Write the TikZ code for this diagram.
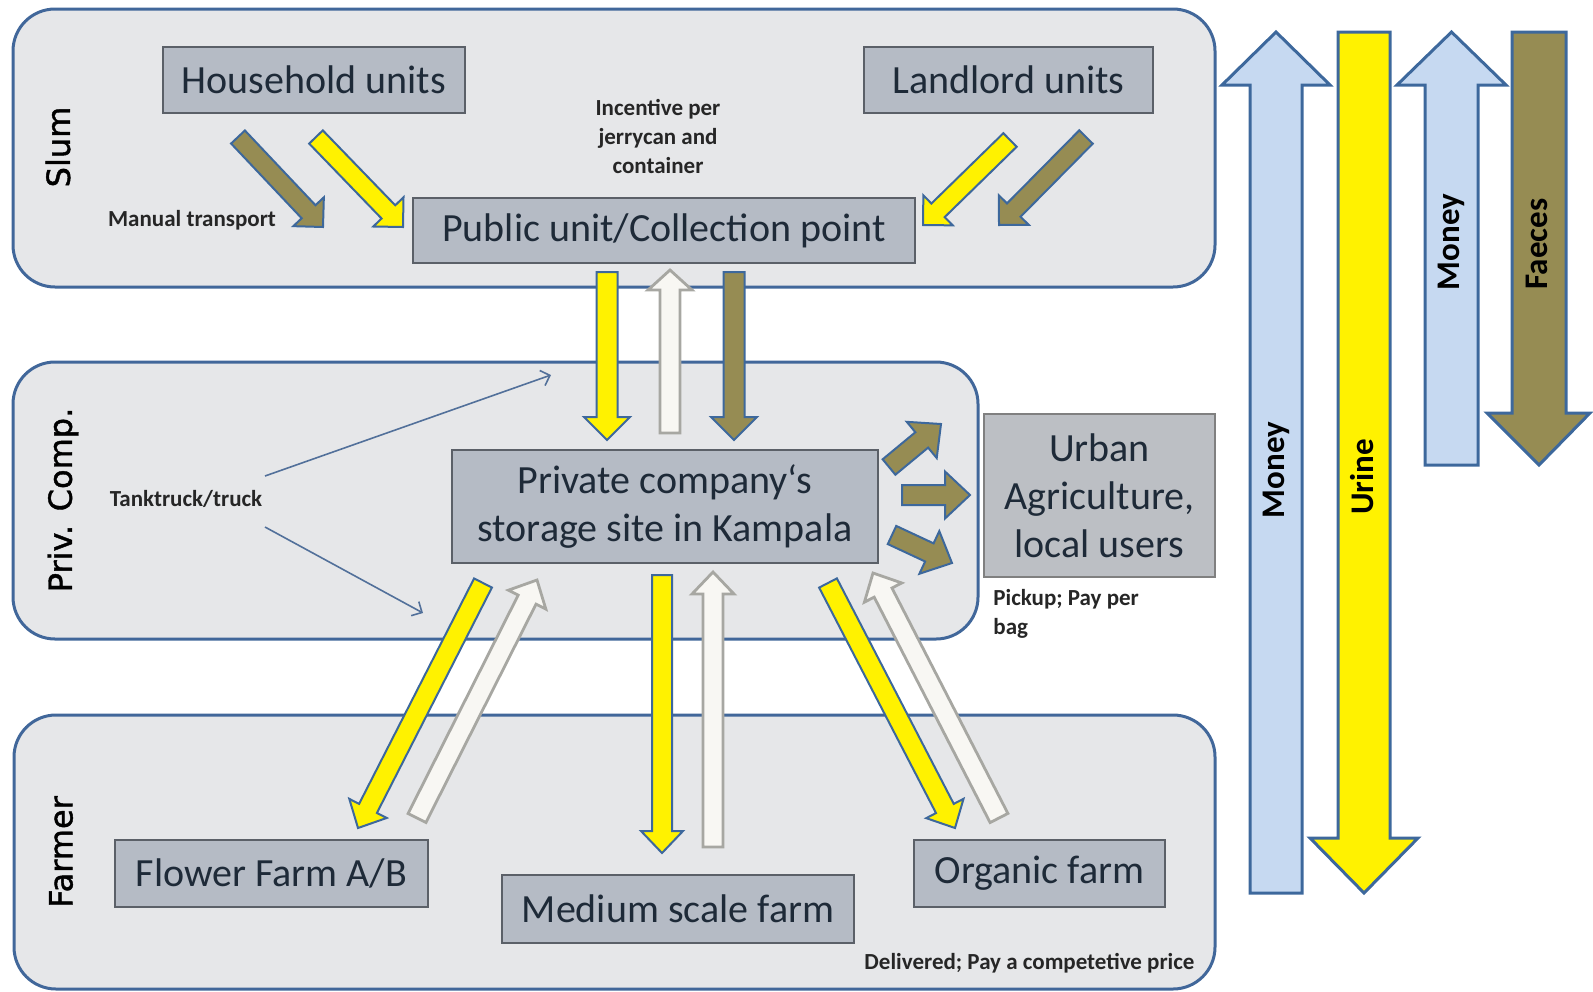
\documentclass[tikz,border=0pt]{standalone}
\usepackage{fontspec}
\setmainfont{Carlito}
\newfontfamily\dejavu[BoldFont={DejaVu Sans},BoldFeatures={FakeBold=1.3}]{DejaVu Sans}
\usetikzlibrary{calc,arrows.meta}

\definecolor{panelfill}{HTML}{E6E7E9}
\definecolor{panelline}{HTML}{41679A}
\definecolor{boxfill}{HTML}{B5BBC5}
\definecolor{boxline}{HTML}{5B6068}
\definecolor{boxtext}{HTML}{1E2A38}
\definecolor{olivec}{HTML}{968C53}
\definecolor{arrline}{HTML}{3D689C}
\definecolor{whitefill}{HTML}{F8F7F3}
\definecolor{whiteline}{HTML}{A7A7A2}
\definecolor{moneyfill}{HTML}{C6D9F1}
\definecolor{urbfill}{HTML}{BCBFC4}
\definecolor{thinline}{HTML}{52709A}
\definecolor{smalltext}{HTML}{262626}

\newcommand\blockarrow[6]{%
  \coordinate (ba-base) at ($(#3)!#6!(#2)$);
  \draw[#1] ($(#2)!#4!90:(#3)$) -- ($(ba-base)!#4!90:(#3)$) -- ($(ba-base)!#5!90:(#3)$)
    -- (#3) -- ($(ba-base)!#5!-90:(#3)$) -- ($(ba-base)!#4!-90:(#3)$) -- ($(#2)!#4!-90:(#3)$) -- cycle;
}

\begin{document}
\begin{tikzpicture}[x=0.5pt,y=-0.5pt,
  panel/.style={draw=panelline, line width=1.5pt, fill=panelfill, rounded corners=21pt, inner sep=0pt},
  box/.style={draw=boxline, line width=0.8pt, fill=boxfill, text=boxtext, font=\fontsize{20pt}{24pt}\selectfont, align=center, inner sep=0pt},
  sidelabel/.style={rotate=90, font=\dejavu\bfseries\fontsize{16pt}{19pt}\selectfont, text=black, inner sep=0pt},
  note/.style={font=\bfseries\fontsize{11.5pt}{14.5pt}\selectfont, text=smalltext, inner sep=0pt, align=center},
  yarrow/.style={fill=yellow, draw=arrline, line width=1pt, line join=miter},
  oarrow/.style={fill=olivec, draw=arrline, line width=1pt, line join=miter},
  warrow/.style={fill=whitefill, draw=whiteline, line width=1.4pt, line join=miter},
  legend/.style={draw=arrline, line width=1.5pt, line join=miter},
  legendtext/.style={rotate=90, font=\bfseries\fontsize{16.5pt}{19pt}\selectfont, text=black, inner sep=0pt},
  thinarrow/.style={draw=thinline, line width=0.8pt, -{Straight Barb[length=4pt,width=8pt]}}
]
\useasboundingbox (0,0) rectangle (1593,991);

% panels
\node[panel, minimum width=601pt, minimum height=139pt] (slum) at (614,148) {};
\node[panel, minimum width=482.5pt, minimum height=138.5pt] (priv) at (495.5,500.5) {};
\node[panel, minimum width=600.5pt, minimum height=137pt] (farmer) at (614.5,852) {};

% side labels
\node[sidelabel] (lslum) at (58,147) {Slum};
\node[sidelabel] (lpriv) at (63,500) {Priv. Comp.};
\node[sidelabel] (lfarm) at (61,852) {Farmer};

% boxes
\node[box, minimum width=151pt, minimum height=33pt] (house) at (314,80) {Household units};
\node[box, minimum width=144.5pt, minimum height=33pt] (land) at (1008.5,80) {Landlord units};
\node[box, minimum width=251pt, minimum height=32.5pt] (public) at (664,230.5) {Public unit/Collection point};
\node[box, minimum width=213pt, minimum height=56.5pt] (store) at (665,506.5) {Private company‘s\\storage site in Kampala};
\node[box, fill=urbfill, draw=gray, minimum width=115.5pt, minimum height=81.5pt] (urban) at (1099.5,495.5) {Urban\\Agriculture,\\local users};
\node[box, minimum width=156.5pt, minimum height=33.5pt] (flower) at (271.5,873.5) {Flower Farm A/B};
\node[box, minimum width=176pt, minimum height=34pt] (medium) at (678,909) {Medium scale farm};
\node[box, minimum width=125.5pt, minimum height=33.5pt] (organic) at (1039.5,873.5) {Organic farm};

% notes
\node[note] (manual) at (192,220) {Manual transport};
\node[note] (incent) at (658,136) {Incentive per\\jerrycan and\\container};
\node[note] (tank) at (186,499) {Tanktruck/truck};
\node[note, anchor=north west, align=left] (pickup) at (993,589) {Pickup; Pay per\\bag};
\node[note, anchor=east] (deliv) at (1195,963) {Delivered; Pay a competetive price};

% thin arrows
\coordinate (t1s) at (265,476); \coordinate (t1e) at (551,375);
\coordinate (t2s) at (265,527); \coordinate (t2e) at (423,613);
\draw[thinarrow] (t1s) -- (t1e);
\draw[thinarrow] (t2s) -- (t2e);

% slum arrows
\coordinate (a1s) at (238,137); \coordinate (a1e) at (323,227);
\coordinate (a2s) at (316,137); \coordinate (a2e) at (403,227);
\coordinate (a3s) at (1010,140); \coordinate (a3e) at (923,225);
\coordinate (a4s) at (1086,137); \coordinate (a4e) at (999,225);
\blockarrow{oarrow}{a1s}{a1e}{4.75pt}{10.5pt}{10.5pt}
\blockarrow{yarrow}{a2s}{a2e}{4.75pt}{10.5pt}{10.5pt}
\blockarrow{yarrow}{a3s}{a3e}{4.75pt}{10.5pt}{10.5pt}
\blockarrow{oarrow}{a4s}{a4e}{4.75pt}{10.5pt}{10.5pt}

% public <-> storage
\coordinate (v1s) at (607,272); \coordinate (v1e) at (607,440);
\coordinate (v2s) at (670,433); \coordinate (v2e) at (670,270);
\coordinate (v3s) at (734,272); \coordinate (v3e) at (734,440);
\blockarrow{yarrow}{v1s}{v1e}{5.25pt}{11.5pt}{11.5pt}
\blockarrow{warrow}{v2s}{v2e}{5pt}{11pt}{10pt}
\blockarrow{oarrow}{v3s}{v3e}{5.25pt}{11.5pt}{11.5pt}

% storage -> urban
\coordinate (u1s) at (889,467); \coordinate (u1e) at (941,424);
\coordinate (u2s) at (902,495); \coordinate (u2e) at (970,495);
\coordinate (u3s) at (892,535); \coordinate (u3e) at (952,563);
\blockarrow{oarrow}{u1s}{u1e}{5pt}{11.75pt}{12.5pt}
\blockarrow{oarrow}{u2s}{u2e}{5pt}{11.75pt}{12.5pt}
\blockarrow{oarrow}{u3s}{u3e}{5pt}{11.75pt}{12.5pt}

% storage <-> farms
\coordinate (f1s) at (483,583); \coordinate (f1e) at (358,828);
\coordinate (f2s) at (417,818); \coordinate (f2e) at (537,580);
\coordinate (f3s) at (662,575); \coordinate (f3e) at (662,853);
\coordinate (f4s) at (713,847); \coordinate (f4e) at (713,572);
\coordinate (f5s) at (828,583); \coordinate (f5e) at (955,828);
\coordinate (f6s) at (999,818); \coordinate (f6e) at (873,573);
\blockarrow{yarrow}{f1s}{f1e}{5pt}{10.5pt}{11pt}
\blockarrow{warrow}{f2s}{f2e}{5pt}{10.5pt}{11pt}
\blockarrow{yarrow}{f3s}{f3e}{5pt}{10.5pt}{11pt}
\blockarrow{warrow}{f4s}{f4e}{5pt}{10.5pt}{11pt}
\blockarrow{yarrow}{f5s}{f5e}{5pt}{10.5pt}{11pt}
\blockarrow{warrow}{f6s}{f6e}{5pt}{10.5pt}{11pt}

% legend arrows
\draw[legend, fill=moneyfill] (1250,893) -- (1250,85) -- (1222,85) -- (1276,32) -- (1330,85) -- (1302,85) -- (1302,893) -- cycle;
\draw[legend, fill=yellow] (1338,32) -- (1338,838) -- (1310,838) -- (1364,893) -- (1418,838) -- (1390,838) -- (1390,32) -- cycle;
\draw[legend, fill=moneyfill] (1425,465) -- (1425,85) -- (1397,85) -- (1451.5,32) -- (1506,85) -- (1478,85) -- (1478,465) -- cycle;
\draw[legend, fill=olivec] (1512,32) -- (1512,413) -- (1487,413) -- (1539,465) -- (1590,413) -- (1566,413) -- (1566,32) -- cycle;
\node[legendtext] (money1) at (1276,470) {Money};
\node[legendtext] (urine) at (1362,477) {Urine};
\node[legendtext] (money2) at (1451,242) {Money};
\node[legendtext] (faeces) at (1537,244) {Faeces};
\end{tikzpicture}
\end{document}
